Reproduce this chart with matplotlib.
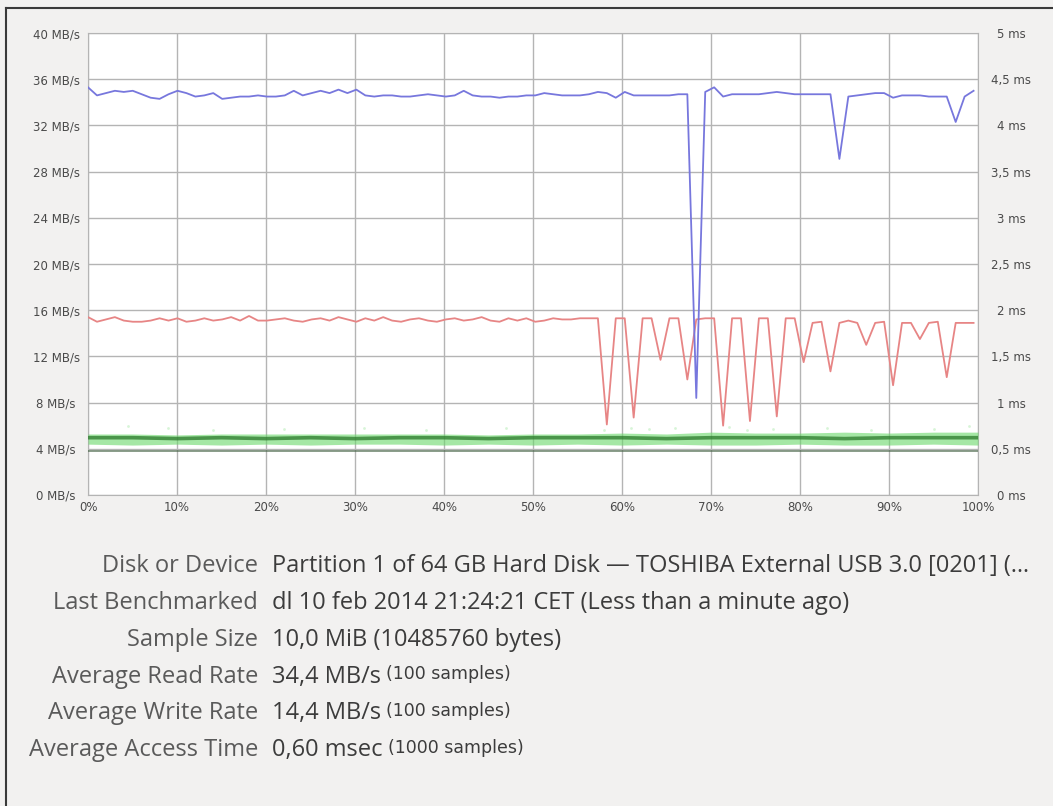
import numpy as np
import matplotlib.pyplot as plt
from matplotlib.lines import Line2D
from matplotlib.text import Annotation

# sample positions (percent of the disk) for the 100 read/write samples
sample_pct = np.linspace(0, 99.5, 100)

read_rate = [35.3, 34.6, 34.8, 35.0, 34.9, 35.0, 34.7, 34.4, 34.3, 34.7,
             35.0, 34.8, 34.5, 34.6, 34.8, 34.3, 34.4, 34.5, 34.5, 34.6,
             34.5, 34.5, 34.6, 35.0, 34.6, 34.8, 35.0, 34.8, 35.1, 34.8,
             35.1, 34.6, 34.5, 34.6, 34.6, 34.5, 34.5, 34.6, 34.7, 34.6,
             34.5, 34.6, 35.0, 34.6, 34.5, 34.5, 34.4, 34.5, 34.5, 34.6,
             34.6, 34.8, 34.7, 34.6, 34.6, 34.6, 34.7, 34.9, 34.8, 34.4,
             34.9, 34.6, 34.6, 34.6, 34.6, 34.6, 34.7, 34.7, 8.4, 34.9,
             35.3, 34.5, 34.7, 34.7, 34.7, 34.7, 34.8, 34.9, 34.8, 34.7,
             34.7, 34.7, 34.7, 34.7, 29.1, 34.5, 34.6, 34.7, 34.8, 34.8,
             34.4, 34.6, 34.6, 34.6, 34.5, 34.5, 34.5, 32.3, 34.5, 35.0]

write_rate = [15.4, 15.0, 15.2, 15.4, 15.1, 15.0, 15.0, 15.1, 15.3, 15.1,
              15.3, 15.0, 15.1, 15.3, 15.1, 15.2, 15.4, 15.1, 15.5, 15.1,
              15.1, 15.2, 15.3, 15.1, 15.0, 15.2, 15.3, 15.1, 15.4, 15.2,
              15.0, 15.3, 15.1, 15.4, 15.1, 15.0, 15.2, 15.3, 15.1, 15.0,
              15.2, 15.3, 15.1, 15.2, 15.4, 15.1, 15.0, 15.3, 15.1, 15.3,
              15.0, 15.1, 15.3, 15.2, 15.2, 15.3, 15.3, 15.3, 6.1, 15.3,
              15.3, 6.7, 15.3, 15.3, 11.7, 15.3, 15.3, 10.0, 15.2, 15.3,
              15.3, 6.0, 15.3, 15.3, 6.4, 15.3, 15.3, 6.8, 15.3, 15.3,
              11.5, 14.9, 15.0, 10.7, 14.9, 15.1, 14.9, 13.0, 14.9, 15.0,
              9.5, 14.9, 14.9, 13.5, 14.9, 15.0, 10.2, 14.9, 14.9, 14.9]

# access time band (ms), read every 5 %
access_pct = [0, 5, 10, 15, 20, 25, 30, 35, 40, 45, 50,
              55, 60, 65, 70, 75, 80, 85, 90, 95, 100]
access_core = [0.62, 0.62, 0.61, 0.62, 0.61, 0.62, 0.61, 0.62, 0.62, 0.61, 0.62,
               0.62, 0.62, 0.61, 0.62, 0.62, 0.62, 0.61, 0.62, 0.62, 0.62]
access_hi = [0.66, 0.66, 0.65, 0.66, 0.66, 0.66, 0.66, 0.66, 0.66, 0.65, 0.66,
             0.66, 0.67, 0.66, 0.68, 0.67, 0.67, 0.68, 0.67, 0.68, 0.68]
access_lo = [0.55, 0.54, 0.55, 0.54, 0.55, 0.54, 0.55, 0.55, 0.54, 0.55, 0.54,
             0.55, 0.54, 0.55, 0.54, 0.54, 0.55, 0.54, 0.54, 0.55, 0.54]
access_floor = [0.48, 0.48, 0.48, 0.48, 0.48, 0.48, 0.48, 0.48, 0.48, 0.48, 0.48,
                0.48, 0.48, 0.48, 0.48, 0.48, 0.48, 0.48, 0.48, 0.48, 0.48]
# a few stray access samples above the band
stray_pct = [4.5, 9, 14, 22, 31, 38, 47, 58, 61, 63, 66, 72, 74, 77, 83, 88, 95, 99]
stray_ms = [0.75, 0.72, 0.70, 0.71, 0.73, 0.70, 0.72, 0.70, 0.73, 0.71,
            0.72, 0.74, 0.70, 0.71, 0.72, 0.70, 0.71, 0.75]

mb_ticks = list(range(0, 41, 4))
ms_ticks = [0, 0.5, 1, 1.5, 2, 2.5, 3, 3.5, 4, 4.5, 5]
pct_ticks = list(range(0, 101, 10))

info_labels = ['Disk or Device', 'Last Benchmarked', 'Sample Size',
               'Average Read Rate', 'Average Write Rate', 'Average Access Time']
info_values = ['Partition 1 of 64 GB Hard Disk \u2014 TOSHIBA External USB 3.0 [0201] (\u2026',
               'dl 10 feb 2014 21:24:21 CET (Less than a minute ago)',
               '10,0 MiB (10485760 bytes)',
               '34,4 MB/s', '14,4 MB/s', '0,60 msec']
info_notes = ['', '', '', '(100 samples)', '(100 samples)', '(1000 samples)']

fig = plt.figure(figsize=(10.53, 8.06), dpi=100, facecolor='#f2f1f0')
ax = fig.add_axes([0.0836, 0.3859, 0.8452, 0.5731])
ax.set_facecolor('white')
ax.set_xlim(0, 100)
ax.set_ylim(0, 40)
ax.set_xticks(pct_ticks)
ax.set_xticklabels([f'{p}%' for p in pct_ticks])
ax.set_yticks(mb_ticks)
ax.set_yticklabels([f'{v} MB/s' for v in mb_ticks], ha='center')
ax.tick_params(axis='y', length=0, pad=23, labelsize=8.5, labelcolor='#4a4a4a')
ax.tick_params(axis='x', length=0, pad=4, labelsize=8.5, labelcolor='#4a4a4a')
ax.grid(color='#b4b4b4', lw=1)
ax.set_axisbelow(True)
for s in ax.spines.values():
    s.set_color('#b4b4b4')

ax2 = ax.twinx()
ax2.set_ylim(0, 5)
ax2.set_yticks(ms_ticks)
ax2.set_yticklabels([f'{t:g} ms'.replace('.', ',') for t in ms_ticks], ha='center')
ax2.tick_params(axis='y', length=0, pad=24, labelsize=8.5, labelcolor='#4a4a4a')
for s in ax2.spines.values():
    s.set_visible(False)

# access time band
ax2.fill_between(access_pct, access_lo, access_hi, color='#6ad86a', alpha=0.6, lw=0)
ax2.plot(access_pct, access_core, color='#2c7a2c', lw=2.6, alpha=0.75)
ax2.plot(access_pct, access_floor, color='#4a664a', lw=1.3, alpha=0.7)
ax2.scatter(stray_pct, stray_ms, s=4, color='#a8e8a8', alpha=0.45, lw=0)

ax.plot(sample_pct, write_rate, color='#e78585', lw=1.3, zorder=3)
ax.plot(sample_pct, read_rate, color='#7777dd', lw=1.3, zorder=4)

# window edge
fig.add_artist(Line2D([0.006, 0.006], [0, 0.99], transform=fig.transFigure,
                      color='#3a3a3a', lw=1.5))
fig.add_artist(Line2D([0.006, 1], [0.99, 0.99], transform=fig.transFigure,
                      color='#3a3a3a', lw=1.5))

row_y = [0.298, 0.252, 0.206, 0.160, 0.115, 0.069]
for lab, val, note, y in zip(info_labels, info_values, info_notes, row_y):
    fig.text(0.245, y, lab, ha='right', va='center', fontsize=17,
             family='Open Sans', color='#5a5a5a')
    t = fig.text(0.258, y, val, ha='left', va='center', fontsize=17,
                 family='Open Sans', color='#3c3c3c')
    if note:
        fig.add_artist(Annotation(note, xy=(1, 0), xycoords=t,
                                  xytext=(4, 4), textcoords='offset points',
                                  ha='left', va='bottom', fontsize=12.5,
                                  family=['Liberation Sans Narrow', 'DejaVu Sans'],
                                  color='#3c3c3c'))

fig.savefig('out.png', dpi=100, facecolor=fig.get_facecolor())
